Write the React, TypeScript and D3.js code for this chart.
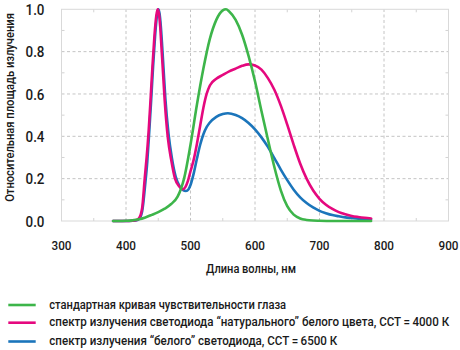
import React, { useLayoutEffect, useRef, useState } from "react";
import * as d3 from "d3";

const xTicks = [300, 400, 500, 600, 700, 800, 900];
const yTicks = [0, 0.2, 0.4, 0.6, 0.8, 1.0];
const xMinor = [350, 450, 550, 650, 750, 850];
const yMinor = [0.1, 0.3, 0.5, 0.7, 0.9];

const eyeWl = [380, 390, 400, 410, 420, 430, 440, 450, 460, 470, 480, 485, 490, 500, 510, 520, 530, 540, 550, 555, 560, 570, 580, 590, 600, 610, 620, 630, 640, 650, 660, 670, 680, 690, 700, 720, 740, 760, 780];
const eyeVal = [0, 0, 0.001, 0.003, 0.008, 0.017, 0.029, 0.042, 0.058, 0.08, 0.115, 0.15, 0.2, 0.36, 0.55, 0.72, 0.86, 0.95, 0.995, 1.0, 0.99, 0.95, 0.88, 0.78, 0.66, 0.52, 0.385, 0.255, 0.145, 0.07, 0.03, 0.012, 0.005, 0.002, 0.001, 0, 0, 0, 0];

const ledNatWl = [380, 390, 400, 410, 415, 420, 425, 429, 432, 435, 438, 441, 444, 447, 449, 451, 453, 455, 457, 460, 465, 470, 476, 482, 488, 492, 496, 500, 505, 510, 515, 520, 525, 530, 540, 550, 560, 570, 580, 590, 600, 610, 620, 630, 640, 650, 660, 670, 680, 690, 700, 710, 720, 730, 740, 750, 760, 770, 780];
const ledNatVal = [0, 0, 0, 0.001, 0.003, 0.012, 0.06, 0.2, 0.3, 0.42, 0.57, 0.73, 0.87, 0.97, 1.0, 0.98, 0.92, 0.82, 0.72, 0.57, 0.39, 0.29, 0.2, 0.165, 0.15, 0.16, 0.19, 0.235, 0.29, 0.365, 0.45, 0.535, 0.6, 0.64, 0.672, 0.69, 0.707, 0.72, 0.733, 0.74, 0.735, 0.715, 0.675, 0.62, 0.545, 0.455, 0.36, 0.272, 0.2, 0.145, 0.105, 0.077, 0.057, 0.042, 0.032, 0.024, 0.019, 0.015, 0.012];

const ledCoolWl = [380, 390, 400, 410, 415, 420, 425, 430, 433, 436, 439, 442, 445, 448, 450, 452, 454, 456, 458, 461, 466, 471, 477, 483, 488, 493, 497, 500, 505, 510, 515, 520, 525, 530, 540, 550, 558, 570, 580, 590, 600, 610, 620, 630, 640, 650, 660, 670, 680, 690, 700, 710, 720, 730, 740, 750, 760, 770, 780];
const ledCoolVal = [0, 0, 0, 0.001, 0.002, 0.008, 0.045, 0.18, 0.28, 0.42, 0.57, 0.73, 0.87, 0.97, 1.0, 0.98, 0.92, 0.83, 0.73, 0.58, 0.41, 0.3, 0.21, 0.165, 0.147, 0.142, 0.15, 0.17, 0.225, 0.295, 0.36, 0.41, 0.443, 0.465, 0.492, 0.505, 0.509, 0.501, 0.486, 0.463, 0.433, 0.395, 0.35, 0.297, 0.243, 0.193, 0.148, 0.112, 0.085, 0.064, 0.048, 0.037, 0.028, 0.022, 0.017, 0.014, 0.011, 0.009, 0.008];

const legendLabels = [
  "стандартная кривая чувствительности глаза",
  "спектр излучения светодиода “натурального” белого цвета, ССТ\u2009=\u20094000 К",
  "спектр излучения “белого” светодиода, ССТ\u2009=\u20096500 К",
];
const legendWidths = [237, 400, 288];
const colors = ["#3db54a", "#e5087e", "#1b75bb"];

const FONT = "Roboto, 'Liberation Sans', sans-serif";

type FitProps = {
  x: number;
  y: number;
  width: number;
  size: number;
  anchor?: "start" | "middle" | "end";
  rotate?: number;
  children: string;
};

function FitText({ x, y, width, size, anchor = "start", rotate = 0, children }: FitProps) {
  const ref = useRef<SVGTextElement>(null);
  const [sx, setSx] = useState(1);
  useLayoutEffect(() => {
    if (ref.current) {
      const w = ref.current.getComputedTextLength();
      if (w > 0) setSx(width / w);
    }
  }, [width, children, size]);
  return (
    <g transform={`translate(${x},${y}) rotate(${rotate}) scale(${sx},1)`}>
      <text ref={ref} x={0} y={0} textAnchor={anchor} fontFamily={FONT} fontWeight={500} fontSize={size} fill="#1a1a1a">
        {children}
      </text>
    </g>
  );
}

export default function App() {
  const W = 460, H = 350;
  const x = d3.scaleLinear().domain([300, 900]).range([61.5, 448.5]);
  const y = d3.scaleLinear().domain([0, 1]).range([221, 9.3]);
  const line = d3
    .line<[number, number]>()
    .x((d) => x(d[0]))
    .y((d) => y(d[1]))
    .curve(d3.curveMonotoneX);
  const series = [
    d3.zip(eyeWl, eyeVal) as [number, number][],
    d3.zip(ledNatWl, ledNatVal) as [number, number][],
    d3.zip(ledCoolWl, ledCoolVal) as [number, number][],
  ];
  const drawOrder = [2, 1, 0];
  const [x0, x1] = x.range();
  const [yb, yt] = y.range();
  const legendY = [305, 322.7, 341.5];
  const legendBase = [308.5, 326, 344.5];

  return (
    <svg width={W} height={H} style={{ position: "absolute", left: 0, top: 0, background: "#fff" }}>
      <rect x={0} y={0} width={W} height={H} fill="#fff" />
      {xTicks.slice(1, -1).map((t) => (
        <line key={"gx" + t} x1={x(t)} x2={x(t)} y1={yb} y2={yt} stroke="#b5b5b5" strokeWidth={0.8} strokeDasharray="3,2.5" />
      ))}
      {yTicks.slice(1, -1).map((t) => (
        <line key={"gy" + t} x1={x0} x2={x1} y1={y(t)} y2={y(t)} stroke="#b5b5b5" strokeWidth={0.8} strokeDasharray="3,2.5" />
      ))}
      {xMinor.map((t) => (
        <g key={"mx" + t}>
          <line x1={x(t)} x2={x(t)} y1={yb} y2={yb - 3} stroke="#c8c8c8" strokeWidth={0.8} />
          <line x1={x(t)} x2={x(t)} y1={yt} y2={yt + 3} stroke="#c8c8c8" strokeWidth={0.8} />
        </g>
      ))}
      {yMinor.map((t) => (
        <g key={"my" + t}>
          <line x1={x0} x2={x0 + 3} y1={y(t)} y2={y(t)} stroke="#c8c8c8" strokeWidth={0.8} />
          <line x1={x1} x2={x1 - 3} y1={y(t)} y2={y(t)} stroke="#c8c8c8" strokeWidth={0.8} />
        </g>
      ))}
      <rect x={x0} y={yt} width={x1 - x0} height={yb - yt} fill="none" stroke="#d9d9d9" strokeWidth={1} />
      {drawOrder.map((i) => (
        <path key={"s" + i} d={line(series[i]) || ""} fill="none" stroke={colors[i]} strokeWidth={2.6} strokeLinejoin="round" strokeLinecap="round" />
      ))}
      {yTicks.map((t) => (
        <FitText key={"yl" + t} x={44.5} y={y(t) + 5.6} width={19} size={15.5} anchor="end">
          {t.toFixed(1)}
        </FitText>
      ))}
      {xTicks.map((t) => (
        <FitText key={"xl" + t} x={x(t)} y={250} width={20} size={12.7} anchor="middle">
          {String(t)}
        </FitText>
      ))}
      <FitText x={251} y={273} width={90} size={12.5} anchor="middle">
        Длина волны, нм
      </FitText>
      <FitText x={13.5} y={107.5} width={189} size={13.5} anchor="middle" rotate={-90}>
        Относительная площадь излучения
      </FitText>
      {legendLabels.map((lab, i) => (
        <g key={"lg" + i}>
          <line x1={8.3} x2={35.7} y1={legendY[i]} y2={legendY[i]} stroke={colors[i]} strokeWidth={2.6} />
          <FitText x={49.3} y={legendBase[i]} width={legendWidths[i]} size={13.5}>
            {lab}
          </FitText>
        </g>
      ))}
    </svg>
  );
}
